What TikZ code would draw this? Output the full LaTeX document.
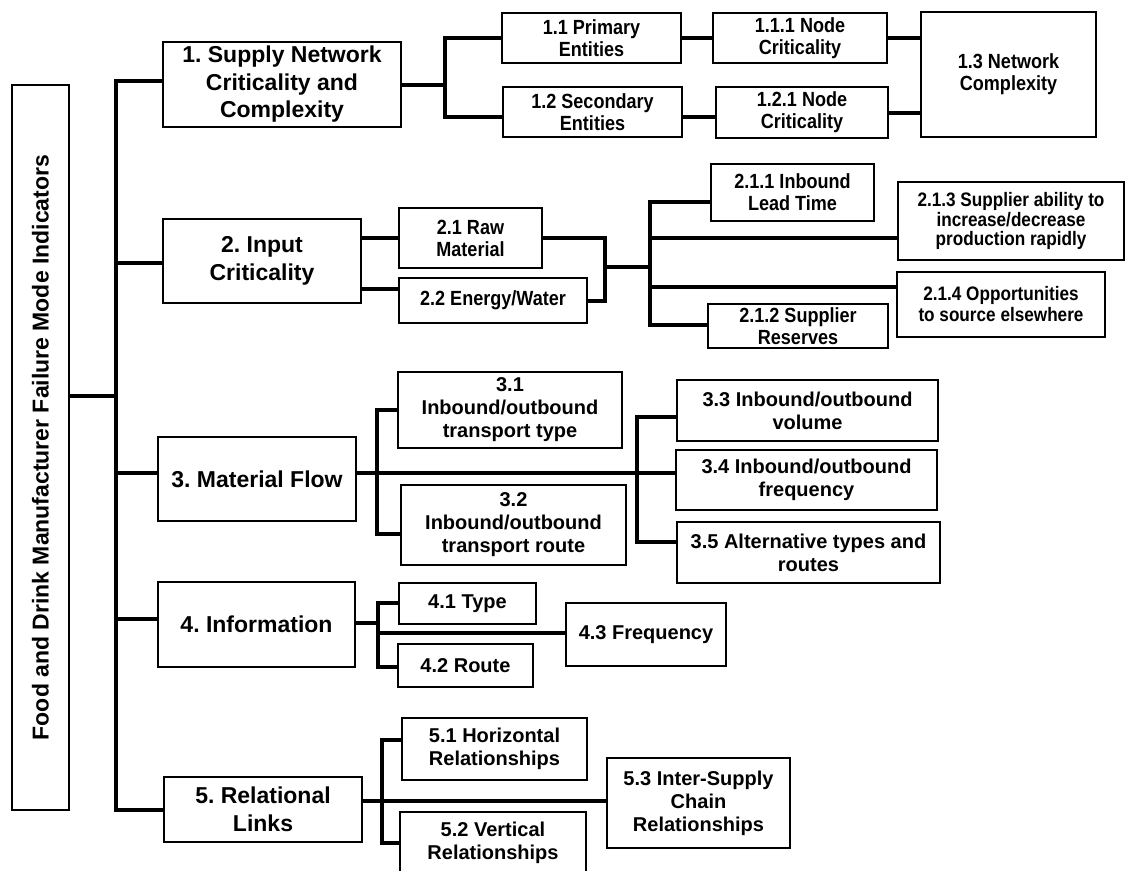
\documentclass[tikz,border=0pt]{standalone}
\usepackage{fontspec}
\setmainfont{Liberation Sans}
\newfontfamily\narrowsans[FakeStretch=0.88]{Liberation Sans}
\usetikzlibrary{calc}
\frenchspacing

% box given by its corners: \bx[style]{name}{x1}{y1}{x2}{y2}{text}
\newcommand{\bx}[7][]{%
  \pgfmathsetmacro\bxw{#5-#3}\pgfmathsetmacro\bxh{#6-#4}%
  \pgfmathsetmacro\bxx{(#3+#5)/2}\pgfmathsetmacro\bxy{(#4+#6)/2}%
  \node[box,#1,minimum width=\bxw pt,minimum height=\bxh pt] (#2) at (\bxx,\bxy) {#7};}

\begin{document}
\begin{tikzpicture}[x=1pt,y=-1pt,
  box/.style={draw=black,line width=2.6pt,fill=white,inner sep=0pt,align=center},
  lvlone/.style={font=\fontsize{23}{27.5}\selectfont\bfseries},
  subn/.style={font=\narrowsans\fontsize{20.5}{22}\selectfont\bfseries},
  subw/.style={font=\fontsize{20}{23}\selectfont\bfseries},
  conn/.style={line width=4pt},
  thinconn/.style={line width=3.2pt}]
\useasboundingbox (0,0) rectangle (1126,870);

% root
\node[box,rotate=90,minimum width=725pt,minimum height=57pt,
      font=\fontsize{23}{27}\selectfont\bfseries] (root) at (40.5,447.5)
      {Food and Drink Manufacturer Failure Mode Indicators};

% first level
\bx[lvlone]{b1}{163}{42}{401}{127}{1. Supply Network\\Criticality and\\Complexity}
\bx[lvlone]{b2}{163}{219}{361}{303}{2. Input\\Criticality}
\bx[lvlone]{b3}{158}{437}{356}{521}{3. Material Flow}
\bx[lvlone]{b4}{158}{582}{355}{667}{4. Information}
\bx[lvlone]{b5}{164}{777}{362}{842}{5. Relational\\Links}

% group 1
\bx[subn]{b11}{502}{13}{681}{63}{1.1 Primary\\Entities}
\bx[subn]{b12}{503}{87}{682}{137}{1.2 Secondary\\Entities}
\bx[subn]{b111}{713}{13}{887}{63}{1.1.1 Node\\Criticality}
\bx[subn]{b121}{716}{87}{888}{138}{1.2.1 Node\\Criticality}
\bx[subn]{b13}{921}{12}{1096}{137}{1.3 Network\\Complexity}

% group 2
\bx[subn]{b21}{399}{208}{542}{268}{2.1 Raw\\Material}
\bx[subn]{b22}{399}{278}{587}{323}{2.2 Energy/Water}
\bx[subn]{b211}{711}{164}{874}{221}{2.1.1 Inbound\\Lead Time}
\bx[subn]{b212}{708}{304}{888}{348}{2.1.2 Supplier\\Reserves}
\bx[subn,font=\narrowsans\fontsize{19.5}{19.5}\selectfont\bfseries]{b213}{898}{182}{1124}{260}{2.1.3 Supplier ability to\\increase/decrease\\production rapidly}
\bx[subn,font=\narrowsans\fontsize{19.5}{21}\selectfont\bfseries]{b214}{897}{272}{1105}{337}{2.1.4 Opportunities\\to source elsewhere}

% group 3
\bx[subw]{b31}{398}{372}{622}{448}{3.1\\Inbound/outbound\\transport type}
\bx[subw]{b32}{401}{485}{626}{565}{3.2\\Inbound/outbound\\transport route}
\bx[subw]{b33}{677}{380}{938}{441}{3.3 Inbound/outbound\\volume}
\bx[subw]{b34}{676}{450}{937}{510}{3.4 Inbound/outbound\\frequency}
\bx[subw]{b35}{677}{522}{940}{583}{3.5 Alternative types and\\routes}

% group 4
\bx[subw]{b41}{399}{583}{536}{624}{4.1 Type}
\bx[subw]{b42}{398}{644}{533}{687}{4.2 Route}
\bx[subw]{b43}{566}{603}{726}{666}{4.3 Frequency}

% group 5
\bx[subw]{b51}{402}{718}{587}{780}{5.1 Horizontal\\Relationships}
\bx[subw]{b52}{400}{812}{586}{874}{5.2 Vertical\\Relationships}
\bx[subw]{b53}{607}{758}{790}{848}{5.3 Inter-Supply\\Chain\\Relationships}

% trunk
\coordinate (t0) at (116,396);
\coordinate (tk1) at (116,81);
\coordinate (tk2) at (116,263);
\coordinate (tk3) at (116,473);
\coordinate (tk4) at (116,619);
\coordinate (tk5) at (116,810);
\draw[conn] (root.south |- t0) -- (t0);
\draw[conn] (b1.west |- tk1) -- (tk1) -- (tk5) -- (b5.west |- tk5);
\draw[conn] (tk2) -- (b2.west |- tk2);
\draw[conn] (tk3) -- (b3.west |- tk3);
\draw[conn] (tk4) -- (b4.west |- tk4);

% links of group 1
\coordinate (j1) at (445,85);
\coordinate (j1t) at (445,38);
\coordinate (j1b) at (445,117);
\draw[conn] (b1.east |- j1) -- (j1);
\draw[conn] (b11.west |- j1t) -- (j1t) -- (j1b) -- (b12.west |- j1b);
\draw[conn] (b11.east) -- (b111.west);
\draw[conn] (b12.east |- j1b) -- (b121.west |- j1b);
\draw[conn] (b111.east) -- (b111.east -| b13.west);
\draw[conn] (b121.east) -- (b121.east -| b13.west);

% links of group 2
\coordinate (y22) at (399,289);
\draw[conn] (b2.east |- b21.west) -- (b21.west);
\draw[conn] (b2.east |- y22) -- (y22);
\coordinate (j2a) at (605,267);
\coordinate (j2b) at (650,267);
\draw[conn] (b21.east) -| (j2a) |- (b22.east);
\draw[thinconn] (j2a) -- (j2b);
\coordinate (j2t) at (650,202);
\coordinate (j2u) at (650,325);
\coordinate (j2c) at (650,238);
\coordinate (j2d) at (650,287);
\draw[conn] (b211.west |- j2t) -- (j2t) -- (j2u) -- (b212.west |- j2u);
\draw[conn] (j2c) -- (b213.west |- j2c);
\draw[conn] (j2d) -- (b214.west |- j2d);

% links of group 3
\coordinate (m3) at (377,473);
\draw[line width=3.6pt] (b3.east |- m3) -- (b34.west |- m3);
\coordinate (j3t) at (377,410);
\coordinate (j3u) at (377,534);
\draw[conn] (b31.west |- j3t) -- (j3t) -- (j3u) -- (b32.west |- j3u);
\coordinate (j3v) at (637,417);
\coordinate (j3w) at (637,542);
\draw[conn] (b33.west |- j3v) -- (j3v) -- (j3w) -- (b35.west |- j3w);

% links of group 4
\coordinate (j4a) at (378,623);
\coordinate (j4t) at (378,603);
\coordinate (j4u) at (378,667);
\coordinate (j4c) at (378,633);
\draw[thinconn] (b4.east |- j4a) -- (j4a);
\draw[conn] (b41.west |- j4t) -- (j4t) -- (j4u) -- (b42.west |- j4u);
\draw[conn] (j4c) -- (b43.west |- j4c);

% links of group 5
\coordinate (j5t) at (382,740);
\coordinate (j5u) at (382,843);
\coordinate (j5c) at (382,801);
\draw[conn] (b51.west |- j5t) -- (j5t) -- (j5u) -- (b52.west |- j5u);
\draw[conn] (b5.east |- j5c) -- (b53.west |- j5c);
\end{tikzpicture}
\end{document}
